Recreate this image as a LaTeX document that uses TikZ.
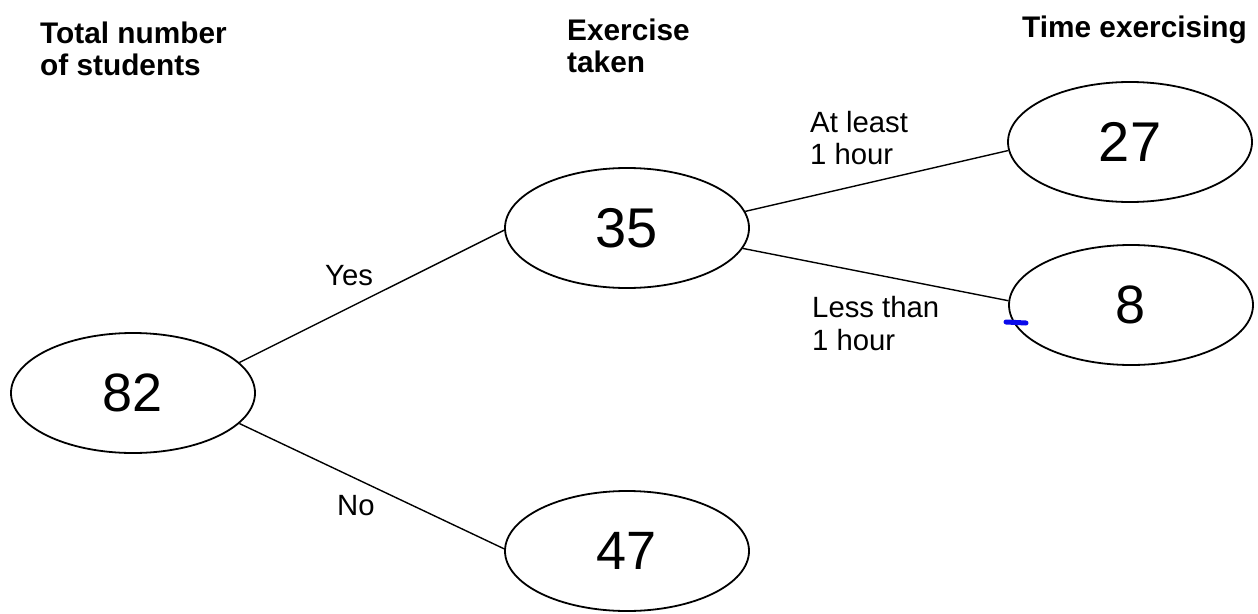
\documentclass[tikz,border=0pt]{standalone}
\usepackage{fontspec}
\setmainfont{Liberation Sans}
\usetikzlibrary{shapes.geometric}
\definecolor{markblue}{RGB}{10,10,235}
\tikzset{
  bubble/.style={ellipse, draw=black, line width=1.8pt, minimum width=244pt, minimum height=120pt, inner sep=0pt},
  typed/.style={font=\fontsize{56}{60}\selectfont},
  hand/.style={font=\fontsize{54}{60}\selectfont},
  header/.style={anchor=base west, inner sep=0pt, align=left, font=\fontsize{29.8}{32}\selectfont\bfseries},
  branch/.style={anchor=base west, inner sep=0pt, align=left, font=\fontsize{29.3}{32}\selectfont},
  link/.style={draw=black, line width=1.4pt},
  bluemark/.style={draw=markblue, line width=5pt, line cap=round}
}
\begin{document}
\begin{tikzpicture}[x=1pt,y=-1pt]
\useasboundingbox[fill=white] (0,0) rectangle (1258,613);
% nodes
\node[bubble, hand] (n82) at (133,393) {82};
\node[bubble, typed] (n35) at (627,228) {35};
\node[bubble, hand] (n47) at (627,551) {47};
\node[bubble, typed] (n27) at (1130,142) {27};
\node[bubble, hand] (n8) at (1131,305) {8};
% connectors
\draw[link] (n82.16) -- (n35.181);
\draw[link] (n82.-16) -- (n47.179);
\draw[link] (n35.8) -- (n27.184);
\draw[link] (n35.-10) -- (n8.178);
% headers
\node[header] (h1) at (40,43) {Total number};
\node[header] (h1b) at (40,75) {of students};
\node[header] (h2) at (567,40) {Exercise};
\node[header] (h2b) at (567,72) {taken};
\node[header] (h3) at (1022,37) {Time exercising};
% branch labels
\node[branch] (lyes) at (325,285) {Yes};
\node[branch] (lno) at (337,515) {No};
\node[branch] (la1) at (810,132) {At least};
\node[branch] (la2) at (810,164) {1 hour};
\node[branch] (lb1) at (812,317) {Less than};
\node[branch] (lb2) at (812,350) {1 hour};
% blue mark
\draw[bluemark] (1006,322) -- (1026,323);
\end{tikzpicture}
\end{document}
